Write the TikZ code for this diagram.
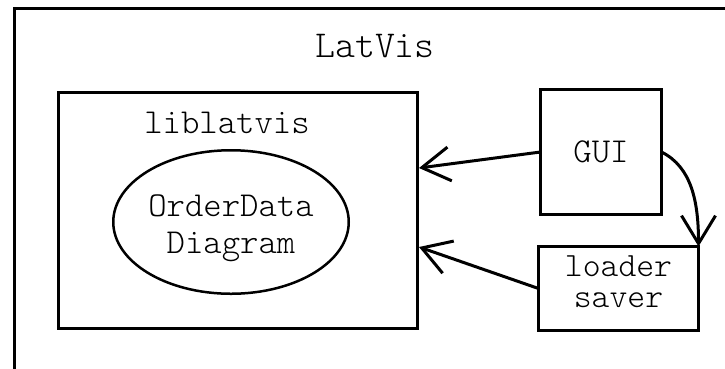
\documentclass[tikz,border=0pt]{standalone}
\usepackage{fontspec}
\setmonofont{lmmonolt10-regular.otf}
\usetikzlibrary{shapes.geometric,arrows.meta}
\begin{document}
\begin{tikzpicture}[x=1pt,y=-1pt,
  box/.style={draw, line width=3pt, inner sep=0pt, outer sep=0pt},
  lbl/.style={font=\ttfamily\fontsize{35}{37}\selectfont},
  arr/.style={line width=3pt, -{Straight Barb[length=28pt,width=34pt]}}]
\useasboundingbox (0,0) rectangle (725,368);
\clip (0,0) rectangle (725,368);
\fill[white] (0,0) rectangle (725,368);
% outer frame (extends past the right and bottom edges)
\node[box, minimum width=800pt, minimum height=420pt, anchor=north west] (outer) at (14,8.5) {};
\node[lbl, font=\ttfamily\fontsize{38}{40}\selectfont, anchor=base] (latvis) at (375,57) {LatVis};
% liblatvis package
\node[box, minimum width=359pt, minimum height=236pt] (lib) at (238,210.5) {};
\node[lbl, anchor=base] (libl) at (227,133) {liblatvis};
\node[draw, ellipse, line width=2.5pt, inner sep=0pt, outer sep=0pt,
      minimum width=235.5pt, minimum height=143.5pt, lbl, align=center]
      (od) at (231,222) {\rule{0pt}{35pt}OrderData\\Diagram};
% right-hand components
\node[box, minimum width=121pt, minimum height=125pt, lbl] (gui) at (601,152) {GUI};
\node[box, minimum width=160pt, minimum height=84pt, align=center,
      font=\ttfamily\fontsize{34}{31}\selectfont]
      (ls) at (618.5,288.5) {loader\\saver\rule[-13.5pt]{0pt}{13.5pt}};
% arrow targets on the liblatvis box
\coordinate (p1) at (419,168);
\coordinate (p2) at (419,247);
\draw[arr] (gui.west) -- (p1);
\draw[arr] (ls.west) -- (p2);
\draw[arr] (gui.east) .. controls +(30,15) and +(0,-45) .. (ls.north east);
\end{tikzpicture}
\end{document}
